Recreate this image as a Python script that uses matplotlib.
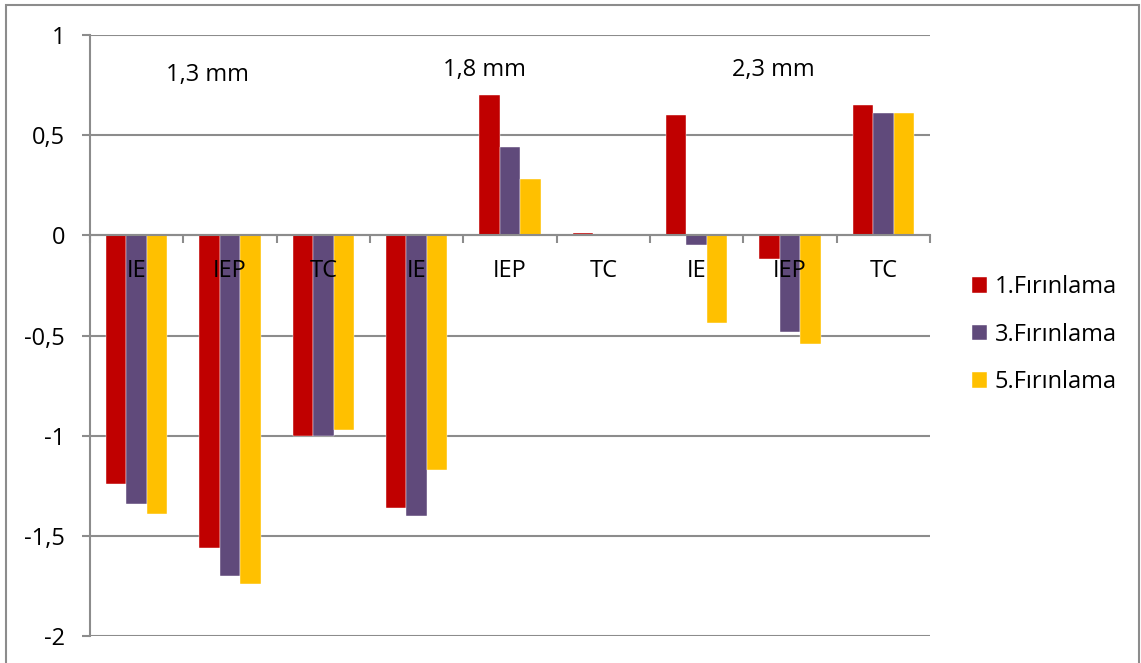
import matplotlib.pyplot as plt
import numpy as np
from matplotlib.patches import Rectangle

plt.rcParams['font.family'] = ['Open Sans', 'DejaVu Sans']

categories = ['IE', 'IEP', 'TC', 'IE', 'IEP', 'TC', 'IE', 'IEP', 'TC']
groups = ['1,3 mm', '1,8 mm', '2,3 mm']
series_names = ['1.Fırınlama', '3.Fırınlama', '5.Fırınlama']
firin1 = [-1.24, -1.56, -1.00, -1.36, 0.70, 0.01, 0.60, -0.12, 0.65]
firin3 = [-1.34, -1.70, -1.00, -1.40, 0.44, 0.00, -0.05, -0.48, 0.61]
firin5 = [-1.39, -1.74, -0.97, -1.17, 0.28, 0.00, -0.44, -0.54, 0.61]
yticks = [1, 0.5, 0, -0.5, -1, -1.5, -2]
ytick_labels = ['1', '0,5', '0', '-0,5', '-1', '-1,5', '-2']

colors = ['#C00000', '#604A7B', '#FFC000']
grid_col = '#8C8C8C'
fs = 17

fig = plt.figure(figsize=(11.41, 6.63), dpi=100)
ax = fig.add_axes([0.0789, 0.0407, 0.7362, 0.9065])

x = np.arange(len(categories))
w = 0.22
for k, (vals, name) in enumerate(zip([firin1, firin3, firin5], series_names)):
    ax.bar(x + (k - 1) * w, vals, width=w, color=colors[k], label=name,
           edgecolor='white', linewidth=0.3, zorder=2)

ax.set_xlim(-0.5, len(categories) - 0.5)
ax.set_ylim(-2, 1)

# horizontal gridlines behind the bars
for yv in yticks:
    ax.axhline(yv, color=grid_col, lw=1.5, zorder=0)

ax.set_yticks(yticks)
ax.set_yticklabels(ytick_labels, fontsize=fs)
ax.tick_params(axis='y', length=6, width=1.5, color=grid_col, pad=12)

# x axis sits at zero, ticks between the categories
ax.spines['bottom'].set_position(('data', 0))
ax.spines['bottom'].set_color(grid_col)
ax.spines['bottom'].set_linewidth(1.5)
ax.set_xticks(np.arange(len(categories) + 1) - 0.5)
ax.set_xticklabels([])
ax.tick_params(axis='x', direction='out', length=6, width=1.5, color=grid_col)
ax.spines['left'].set_color(grid_col)
ax.spines['left'].set_linewidth(1.5)
for s in ['top', 'right']:
    ax.spines[s].set_visible(False)

for i, c in enumerate(categories):
    ax.annotate(c, (i, 0), xytext=(0, -36), textcoords='offset pixels',
                ha='center', va='center', fontsize=fs, zorder=5)

for g, (gx, gy) in zip(groups, [(0.76, 0.8), (3.73, 0.825), (6.82, 0.825)]):
    ax.text(gx, gy, g, ha='center', va='center', fontsize=fs)

fig.legend(loc='center left', bbox_to_anchor=(0.852, 0.495), frameon=False,
           fontsize=fs, handlelength=0.65, handleheight=0.65, handletextpad=0.3,
           labelspacing=1.0, borderpad=0, borderaxespad=0)

# outer frame around the chart
fig.patches.append(Rectangle((6 / 1141, -0.05), 1133 / 1141, 1.05 - 5 / 663,
                             transform=fig.transFigure, fill=False,
                             edgecolor=grid_col, lw=1.5))

fig.savefig('out.png', dpi=100)
